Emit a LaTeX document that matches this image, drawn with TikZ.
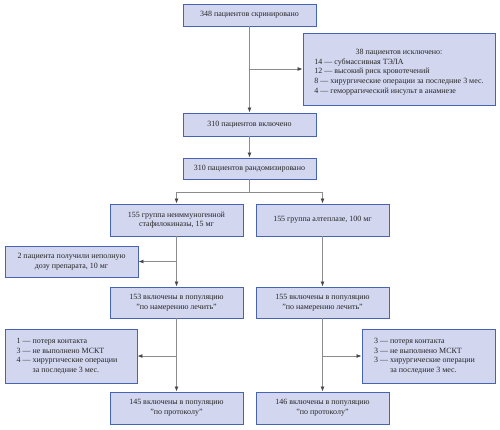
\documentclass[tikz,border=0pt]{standalone}
\usepackage{fontspec}
\setmainfont{Liberation Serif}
\usetikzlibrary{arrows.meta}
\definecolor{boxfill}{HTML}{D2D6EF}
\definecolor{boxline}{HTML}{4863B3}
\definecolor{conn}{HTML}{8C8C8C}
\definecolor{tipc}{HTML}{484848}
\begin{document}
\begin{tikzpicture}[x=1bp,y=-1bp,
  box/.style={draw=boxline,line width=0.9bp,fill=boxfill,inner sep=1bp,
    font=\fontsize{8}{9.8}\selectfont,align=center,text=black!85},
  link/.style={draw=conn,line width=0.8bp},
  arr/.style={link,-{Latex[length=5bp,width=4bp,fill=tipc,color=tipc]}}]
\useasboundingbox (0,0) rectangle (500,429);
\node[box,minimum width=133bp,minimum height=22bp] (b1) at (249.5,15) {348 пациентов скринировано};
\node[box,minimum width=192bp,minimum height=72bp] (ex) at (399,69) {\raisebox{-3bp}[\height][\depth]{\begin{tabular}{@{}c@{}}38 пациентов исключено:\\
  \begin{tabular}{@{}l@{}}14 — субмассивная ТЭЛА\\12 — высокий риск кровотечений\\8 — хирургические операции за последние 3 мес.\\4 — геморрагический инсульт в анамнезе\end{tabular}\end{tabular}}};
\node[box,minimum width=133bp,minimum height=23bp] (b2) at (249.5,124.5) {310 пациентов включено};
\node[box,minimum width=133bp,minimum height=21bp] (b3) at (249.5,168.5) {310 пациентов рандомизировано};
\node[box,minimum width=133bp,minimum height=32bp] (l1) at (176.5,220) {155 группа неиммуногенной\\стафилокиназы, 15 мг};
\node[box,minimum width=133bp,minimum height=32bp] (r1) at (322.5,220) {155 группа алтеплазе, 100 мг};
\node[box,minimum width=133bp,minimum height=31bp] (s1) at (71.5,261.5) {2 пациента получили неполную\\дозу препарата, 10 мг};
\node[box,minimum width=133bp,minimum height=31bp] (l2) at (176.5,302.5) {153 включены в популяцию\\"по намерению лечить"};
\node[box,minimum width=133bp,minimum height=31bp] (r2) at (322.5,302.5) {155 включены в популяцию\\"по намерению лечить"};
\node[box,minimum width=132bp,minimum height=54bp] (sl) at (71,356) {\begin{tabular}{@{}l@{ }l@{}}1 —&потеря контакта\\3 —&не выполнено МСКТ\\4 —&хирургические операции\\&за последние 3 мес.\end{tabular}\hspace{8bp}};
\node[box,minimum width=133bp,minimum height=54bp] (sr) at (428.5,356) {\begin{tabular}{@{}l@{ }l@{}}3 —&потеря контакта\\3 —&не выполнено МСКТ\\3 —&хирургические операции\\&за последние 3 мес.\end{tabular}\hspace{8bp}};
\node[box,minimum width=133bp,minimum height=32bp] (l3) at (176.5,408) {145 включены в популяцию\\"по протоколу"};
\node[box,minimum width=133bp,minimum height=32bp] (r3) at (322.5,408) {146 включены в популяцию\\"по протоколу"};
\coordinate (j1) at (b1.south |- ex.west);
\coordinate (j2) at (b3.south |- 0,192);
\coordinate (j3) at (l1.south |- s1.east);
\coordinate (j4) at (l2.south |- sl.east);
\coordinate (j5) at (r2.south |- sr.west);
\draw[arr] (b1.south) -- (b2.north);
\draw[arr] (j1) -- (ex.west);
\draw[arr] (b2.south) -- (b3.north);
\draw[link] (b3.south) -- (j2);
\draw[arr] (j2) -| (l1.north);
\draw[arr] (j2) -| (r1.north);
\draw[arr] (l1.south) -- (l2.north);
\draw[arr] (j3) -- (s1.east);
\draw[arr] (r1.south) -- (r2.north);
\draw[arr] (l2.south) -- (l3.north);
\draw[arr] (j4) -- (sl.east);
\draw[arr] (r2.south) -- (r3.north);
\draw[arr] (j5) -- (sr.west);
\end{tikzpicture}
\end{document}
